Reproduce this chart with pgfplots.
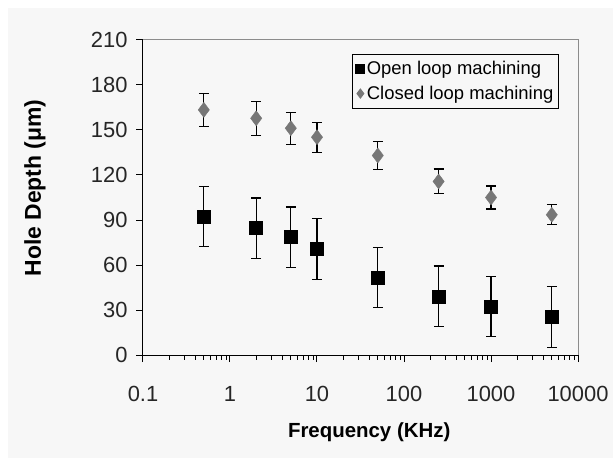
\documentclass[border=0pt]{standalone}
\usepackage{fontspec}
\setmainfont{Liberation Sans}
\usepackage{pgfplots}
\pgfplotsset{compat=1.18}
\definecolor{bg}{HTML}{F7F7F7}
\definecolor{dgray}{HTML}{777777}
\definecolor{fgray}{HTML}{8C8C8C}

\begin{document}
\begin{tikzpicture}[x=1bp,y=1bp]
\path[use as bounding box] (-143bp,-103bp) rectangle (470bp,355bp);
\fill[white] (-143bp,-103bp) rectangle (470bp,355bp);
\fill[bg] (-135bp,-103bp) rectangle (470bp,347bp);
\begin{axis}[
  at={(0,0)}, anchor=south west,
  scale only axis,
  width=435bp, height=315bp,
  xmode=log,
  xmin=0.1, xmax=10000,
  ymin=0, ymax=210,
  xtick={0.1,1,10,100,1000,10000},
  xticklabels={0.1,1,10,100,1000,10000},
  ytick={0,30,...,210},
  axis x line*=bottom,
  axis y line*=left,
  axis line style={black, line width=1bp},
  tick align=outside,
  major tick length=7bp,
  minor tick length=4.5bp,
  every tick/.style={black, line width=1bp},
  /pgf/number format/assume math mode=true,
  tick label style={font=\fontsize{22}{26}\selectfont, text=black!85},
  xticklabel style={yshift=-21bp},
  yticklabel style={xshift=-5bp},
  xlabel={Frequency (KHz)},
  ylabel={Hole Depth (μm)},
  xlabel style={font=\fontsize{20.5}{24}\selectfont\bfseries,
    at={(rel axis cs:0.52,0)}, anchor=center, yshift=-77bp},
  ylabel style={font=\fontsize{23}{27}\selectfont\bfseries,
    at={(rel axis cs:0,0.53)}, anchor=center, yshift=108bp},
  legend style={at={(rel axis cs:0.956,0.956)}, anchor=north east,
    draw=black, line width=1bp, fill=bg,
    font=\fontsize{18.5}{21}\selectfont,
    inner xsep=3bp, inner ysep=5bp, row sep=6bp,
    /tikz/every even column/.append style={column sep=1bp}},
  legend cell align=left,
  legend image code/.code={\draw[#1, mark size=4.5bp] plot coordinates {(0.1cm,0cm)};},
  clip=false,
]
\addplot[only marks, mark=square*, mark size=6.5bp, mark options={fill=black, draw=black},
  error bars/.cd, y dir=both, y explicit,
  error bar style={black, line width=1.1bp},
  error mark options={rotate=90, mark size=5bp, black, line width=1.1bp}]
  coordinates {
  (0.5,92.3) +- (0,20.2)
  (2,84.6) +- (0,20.1)
  (5,78.6) +- (0,20.1)
  (10,70.6) +- (0,20.3)
  (50,51.7) +- (0,20.1)
  (250,39.1) +- (0,20.2)
  (1000,32.4) +- (0,20.2)
  (5000,25.3) +- (0,20.1)
  };
\addlegendentry{Open loop machining}
\addplot[only marks, mark=diamond*, mark size=7.5bp, mark options={fill=dgray, draw=dgray},
  error bars/.cd, y dir=both, y explicit,
  error bar style={black, line width=1.1bp},
  error mark options={rotate=90, mark size=5bp, black, line width=1.1bp}]
  coordinates {
  (0.5,163.4) +- (0,11)
  (2,157.8) +- (0,11.2)
  (5,151.2) +- (0,10.7)
  (10,145.2) +- (0,10)
  (50,133) +- (0,9.6)
  (250,115.7) +- (0,8.3)
  (1000,105) +- (0,7.7)
  (5000,93.5) +- (0,6.8)
  };
\addlegendentry{Closed loop machining}
\draw[fgray, line width=1bp] (rel axis cs:0,1) -- (rel axis cs:1,1) -- (rel axis cs:1,0);
\end{axis}
\end{tikzpicture}
\end{document}
